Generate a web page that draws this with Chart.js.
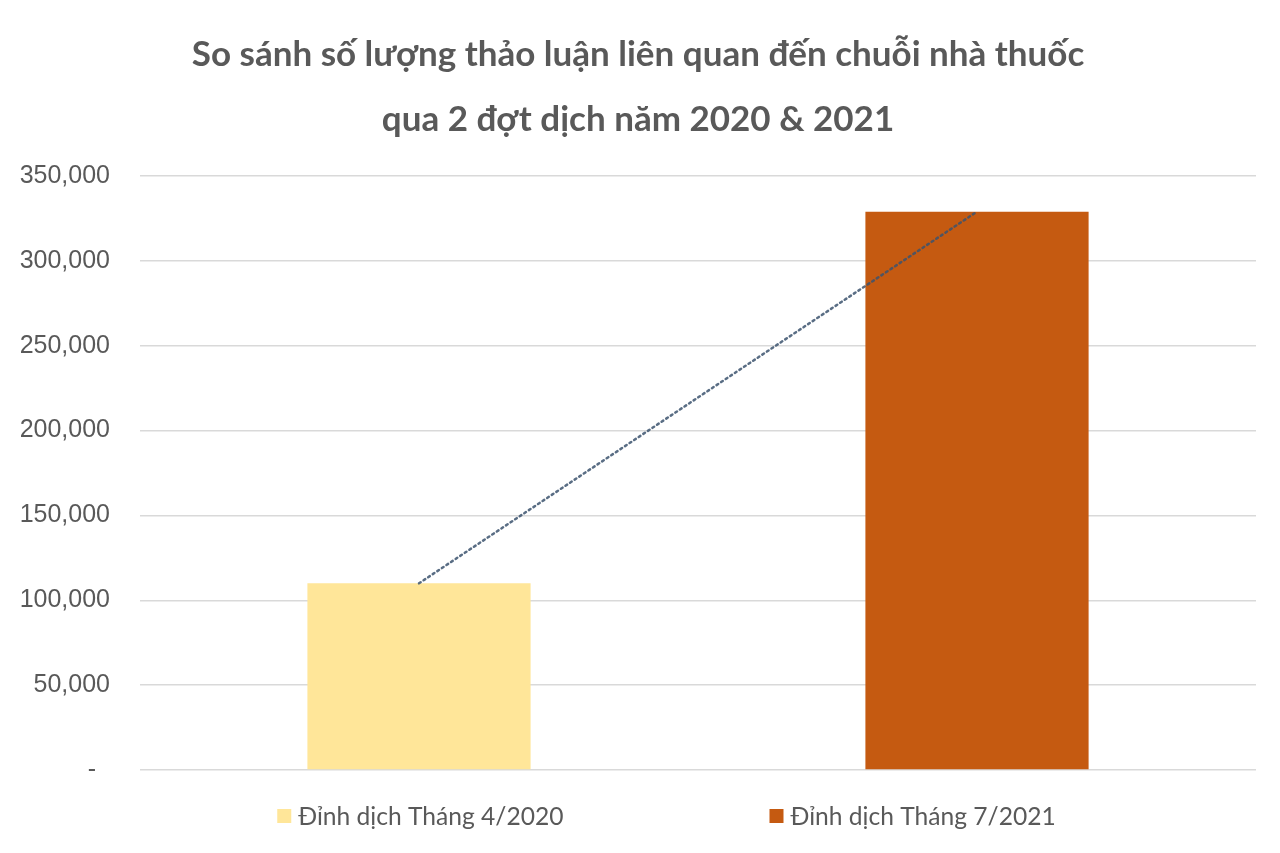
<!DOCTYPE html>
<html>
<head>
<meta charset="utf-8">
<script src="https://cdn.jsdelivr.net/npm/chart.js@4"></script>
<style>
  html, body { margin: 0; padding: 0; background: #ffffff; }
  #wrap { width: 1280px; height: 853px; }
</style>
</head>
<body>
<div id="wrap"><canvas id="c"></canvas></div>
<script>
const titleLines = ['So sánh số lượng thảo luận liên quan đến chuỗi nhà thuốc', 'qua 2 đợt dịch năm 2020 & 2021'];
const categories = ['Đỉnh dịch Tháng 4/2020', 'Đỉnh dịch Tháng 7/2021'];
const values = [110000, 329000];
const trendValues = [110000, 329000];
const yTicks = [0, 50000, 100000, 150000, 200000, 250000, 300000, 350000];
const barColors = ['#FFE699', '#C55A11'];

const textColor = '#595959';

const customLegend = {
  id: 'customLegend',
  afterDraw(chart) {
    const ctx = chart.ctx;
    ctx.save();
    ctx.font = '24.6px Lato';
    ctx.textBaseline = 'middle';
    ctx.textAlign = 'left';
    const box = 14, gapBoxText = 7, gapItems = 206;
    const widths = categories.map(t => box + gapBoxText + ctx.measureText(t).width);
    const total = widths.reduce((a, b) => a + b, 0) + gapItems * (categories.length - 1);
    const center = chart.width * 0.5207;
    let x = center - total / 2;
    const y = 816;
    categories.forEach((t, i) => {
      ctx.fillStyle = barColors[i];
      ctx.fillRect(x, y - box / 2, box, box);
      ctx.fillStyle = textColor;
      ctx.fillText(t, x + box + gapBoxText, y + 1);
      x += widths[i] + gapItems;
    });
    ctx.restore();
  }
};

new Chart(document.getElementById('c'), {
  data: {
    labels: categories,
    datasets: [
      {
        type: 'line',
        label: 'Trendline',
        data: trendValues,
        borderColor: 'rgba(60,84,110,0.85)',
        borderWidth: 2.5,
        borderDash: [2, 3.5],
        borderCapStyle: 'round',
        pointRadius: 0,
        fill: false,
        order: 0
      },
      {
        type: 'bar',
        label: 'Số lượng thảo luận',
        data: values,
        backgroundColor: barColors,
        barPercentage: 0.4,
        categoryPercentage: 1.0,
        order: 1
      }
    ]
  },
  options: {
    responsive: true,
    maintainAspectRatio: false,
    animation: false,
    layout: { padding: { left: 20, right: 24, top: 0, bottom: 83 } },
    plugins: {
      legend: { display: false },
      tooltip: { enabled: false },
      title: {
        display: true,
        text: titleLines,
        color: textColor,
        font: { family: 'Lato', size: 35, weight: 'bold', lineHeight: 1.857 },
        padding: { top: 22, bottom: 24 }
      }
    },
    scales: {
      x: {
        display: true,
        grid: { display: false, drawTicks: false },
        border: { display: false },
        ticks: { display: false }
      },
      y: {
        min: 0,
        max: 350000,
        afterBuildTicks(axis) { axis.ticks = yTicks.map(v => ({ value: v })); },
        afterFit(axis) { axis.width = 120; },
        grid: { color: '#d9d9d9', lineWidth: 1.5, drawTicks: false },
        border: { display: false },
        ticks: {
          color: textColor,
          padding: 30,
          font: { family: 'Liberation Sans', size: 25 },
          callback: v => v === 0 ? '-  ' : v.toLocaleString('en-US')
        }
      }
    }
  },
  plugins: [customLegend]
});
</script>
</body>
</html>
